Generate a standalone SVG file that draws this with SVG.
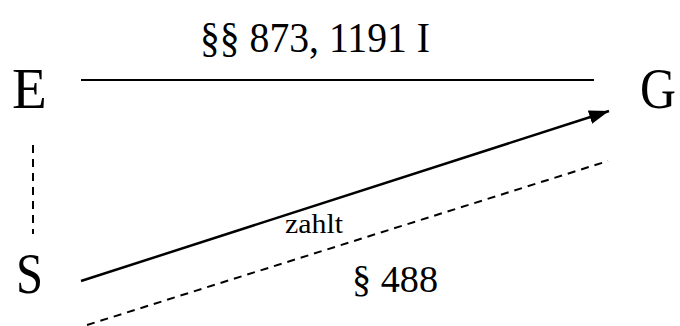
<svg xmlns="http://www.w3.org/2000/svg" width="680" height="326" viewBox="0 0 680 326">
<style>
.t{font-family:"Liberation Serif","Times New Roman",serif;fill:#000}
.big{font-size:57px}
.ln{stroke:#000;fill:none}
.solid{stroke-width:2}
.dash{stroke-width:2;stroke-dasharray:8 6}
</style>
<defs>
<marker id="ah" markerUnits="userSpaceOnUse" markerWidth="22" markerHeight="16" refX="20" refY="7" orient="auto">
<path d="M0,0 L20,7 L0,14 Z" fill="#000"/>
</marker>
</defs>
<g id="E"><text class="t big" x="12" y="108">E</text></g>
<g id="G"><text class="t big" x="640" y="108" textLength="36" lengthAdjust="spacingAndGlyphs">G</text></g>
<g id="S"><text class="t big" x="16" y="293" font-size="56" textLength="27" lengthAdjust="spacingAndGlyphs">S</text></g>
<g id="connectors">
<line class="ln solid" x1="81" y1="80" x2="594" y2="80"/>
<line class="ln dash" x1="33" y1="145" x2="33" y2="234"/>
<line class="ln" stroke-width="2.5" x1="81" y1="281" x2="609" y2="111" marker-end="url(#ah)"/>
<line class="ln dash" x1="87" y1="325" x2="608" y2="161"/>
</g>
<g id="labels">
<text class="t" x="200" y="52" font-size="42" textLength="230" lengthAdjust="spacingAndGlyphs">§§ 873, 1191 I</text>
<text class="t" x="285" y="233" font-size="27" textLength="58" lengthAdjust="spacingAndGlyphs">zahlt</text>
<text class="t" x="352" y="292" font-size="38" textLength="86" lengthAdjust="spacingAndGlyphs">§ 488</text>
</g>
</svg>
